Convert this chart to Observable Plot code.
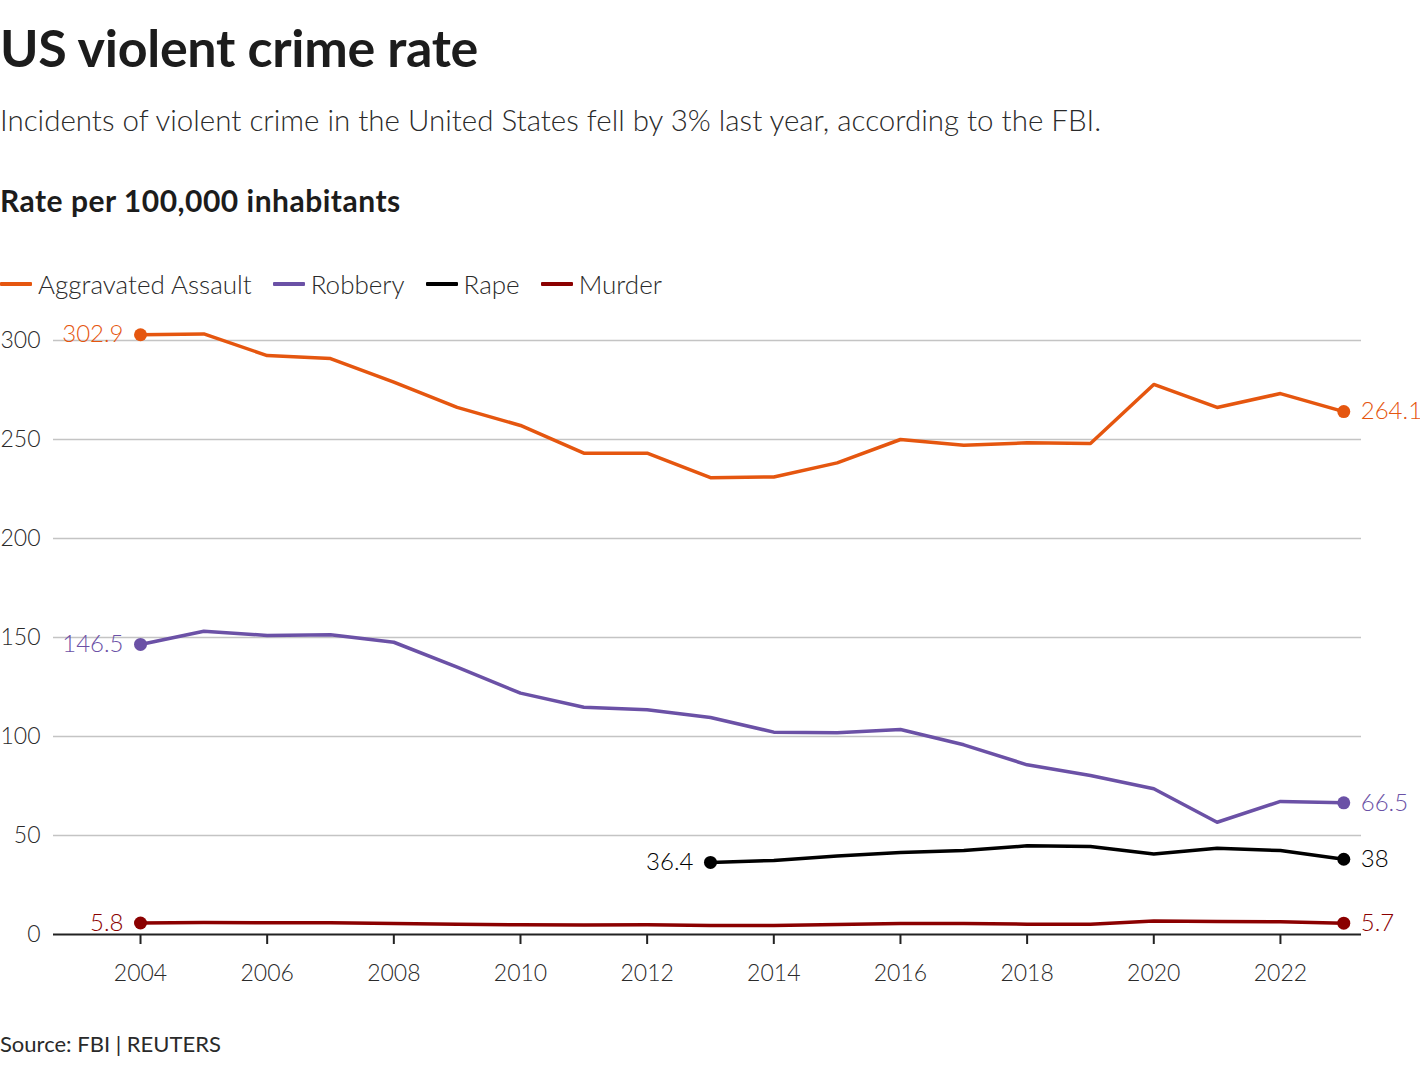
<!DOCTYPE html>
<html><head><meta charset="utf-8">
<script src="https://cdn.jsdelivr.net/npm/d3@7"></script>
<script src="https://cdn.jsdelivr.net/npm/@observablehq/plot@0.6"></script>
<style>
body{margin:0;background:#fff;font-family:Lato, "Noto Sans", sans-serif;color:#1f1f1f;width:1420px;height:1066px;position:relative;overflow:hidden;}
.abs{position:absolute;left:0;white-space:nowrap;}
#title{font-weight:700;font-size:52px;line-height:52px;top:21px;letter-spacing:-0.3px;color:#1c1c1c}
#subtitle{font-weight:300;font-size:29.5px;line-height:29.5px;top:105px;color:#2a2a2a}
#ylabel{font-weight:700;font-size:30px;line-height:30px;top:185px;letter-spacing:0.5px;color:#1c1c1c}
#legend{top:268px;display:flex;align-items:center;gap:21px;font-weight:300;font-size:26px;line-height:32px;color:#2a2a2a}
#legend .item{display:flex;align-items:center}
#legend .sw{width:32px;height:3.5px;margin-right:6px;border-radius:1px}
#chart{top:300px}
#source{font-weight:400;font-size:22px;line-height:22px;top:1033px;color:#2a2a2a}
</style></head><body>
<div class="abs" id="title">US violent crime rate</div>
<div class="abs" id="subtitle">Incidents of violent crime in the United States fell by 3% last year, according to the FBI.</div>
<div class="abs" id="ylabel">Rate per 100,000 inhabitants</div>
<div class="abs" id="legend"></div>
<div class="abs" id="chart"></div>
<div class="abs" id="source">Source: FBI | REUTERS</div>
<script>
const seriesNames = ["Aggravated Assault", "Robbery", "Rape", "Murder"];
const seriesColors = ["#e5560f", "#6b51a6", "#000000", "#8b0000"];

const years = [2004, 2005, 2006, 2007, 2008, 2009, 2010, 2011, 2012, 2013, 2014, 2015, 2016, 2017, 2018, 2019, 2020, 2021, 2022, 2023];
const rapeYears = [2013, 2014, 2015, 2016, 2017, 2018, 2019, 2020, 2021, 2022, 2023];

const assault = [302.9, 303.3, 292.4, 290.9, 279.0, 266.2, 257.1, 243.1, 243.1, 230.7, 231.1, 238.2, 250.0, 247.1, 248.3, 248.0, 277.8, 266.2, 273.2, 264.1];
const robbery = [146.5, 153.2, 151.0, 151.4, 147.6, 135.0, 121.9, 114.8, 113.5, 109.6, 102.2, 101.9, 103.5, 95.8, 85.7, 80.3, 73.6, 56.7, 67.2, 66.5];
const rape = [36.4, 37.4, 39.7, 41.4, 42.4, 44.8, 44.4, 40.6, 43.6, 42.4, 38];
const murder = [5.8, 6.0, 5.9, 5.9, 5.6, 5.2, 4.9, 4.8, 4.9, 4.6, 4.6, 5.0, 5.5, 5.6, 5.2, 5.2, 6.8, 6.6, 6.4, 5.7];

const yTicks = [0, 50, 100, 150, 200, 250, 300];
const xTicks = [2004, 2006, 2008, 2010, 2012, 2014, 2016, 2018, 2020, 2022];

const seriesList = [
  {name: seriesNames[0], yrs: years, vals: assault},
  {name: seriesNames[1], yrs: years, vals: robbery},
  {name: seriesNames[2], yrs: rapeYears, vals: rape},
  {name: seriesNames[3], yrs: years, vals: murder}
];
const data = seriesList.flatMap(s => s.vals.map((v, i) => ({series: s.name, year: s.yrs[i], value: v})));
const firsts = seriesList.map(s => ({series: s.name, year: s.yrs[0], value: s.vals[0]}));
const lasts = seriesList.map(s => ({series: s.name, year: s.yrs[s.yrs.length - 1], value: s.vals[s.vals.length - 1]}));
const colorOf = n => seriesColors[seriesNames.indexOf(n)];

// legend
const legend = document.getElementById("legend");
seriesNames.forEach((n, i) => {
  const it = document.createElement("div");
  it.className = "item";
  it.innerHTML = `<span class="sw" style="background:${seriesColors[i]}"></span><span>${n}</span>`;
  legend.appendChild(it);
});

const chart = Plot.plot({
  width: 1420,
  height: 720,
  marginTop: 40,
  marginBottom: 86,
  marginLeft: 53,
  marginRight: 59,
  x: {domain: [2002.626, 2023.28]},
  y: {domain: [0, 300]},
  style: {fontFamily: "Lato, 'Noto Sans', sans-serif", background: "white", overflow: "visible"},
  marks: [
    Plot.gridY({ticks: yTicks.slice(1), stroke: "#c4c4c4", strokeOpacity: 1, strokeWidth: 1.5}),
    Plot.axisY({ticks: yTicks, tickSize: 0, tickPadding: 13, fontSize: 23, fontWeight: 300, fill: "#2a2a2a", label: null}),
    Plot.ruleY([0], {stroke: "#222", strokeWidth: 2}),
    Plot.axisX({ticks: xTicks, tickSize: 10, tickPadding: 20, fontSize: 23, fontWeight: 300, fill: "#2a2a2a", stroke: "#222", strokeWidth: 2, tickFormat: d => String(d), label: null}),
    Plot.lineY(data, {x: "year", y: "value", z: "series", stroke: d => colorOf(d.series), strokeWidth: 3.5}),
    Plot.dot([...firsts, ...lasts], {x: "year", y: "value", fill: d => colorOf(d.series), r: 6.5}),
    Plot.text(firsts, {x: "year", y: "value", text: d => String(d.value), fill: d => colorOf(d.series), textAnchor: "end", dx: -17, fontSize: 24, fontWeight: 300}),
    Plot.text(lasts, {x: "year", y: "value", text: d => String(d.value), fill: d => colorOf(d.series), textAnchor: "start", dx: 17, fontSize: 24, fontWeight: 300})
  ]
});
document.getElementById("chart").appendChild(chart);
</script>
</body></html>
